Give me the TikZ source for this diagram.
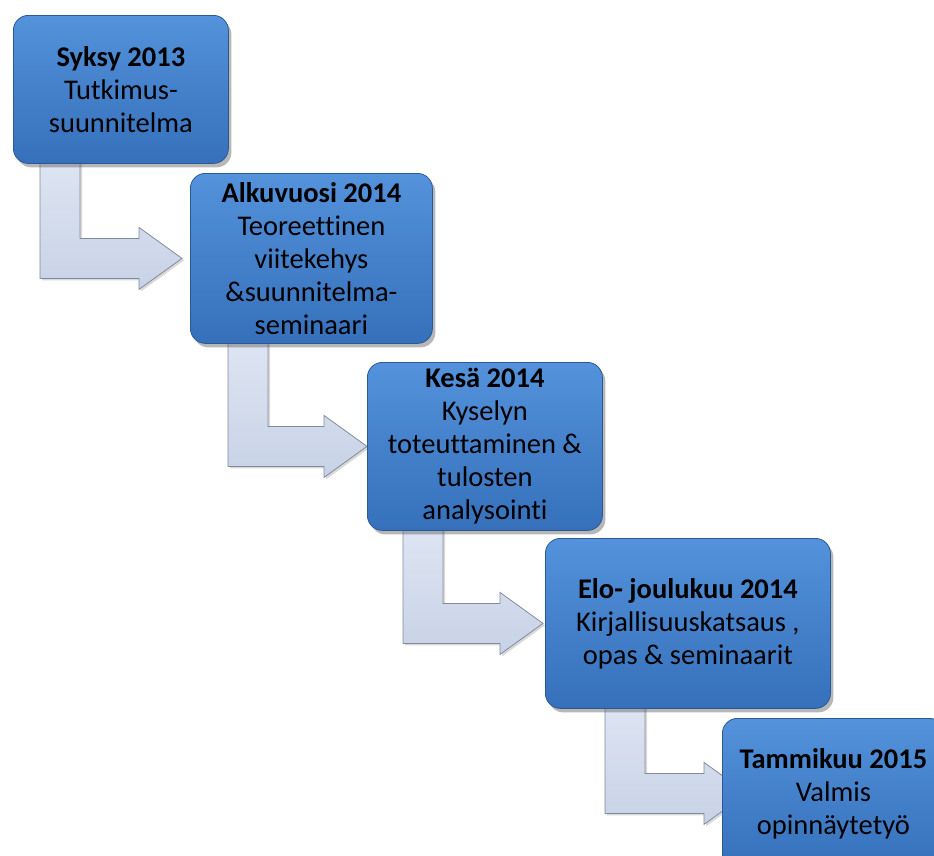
\documentclass[tikz,border=0pt]{standalone}
\usepackage{fontspec}
\setmainfont{Carlito}[Ligatures=NoCommon]
\usetikzlibrary{calc, backgrounds, shadows}
\definecolor{phasetop}{RGB}{84,146,220}
\definecolor{phasebottom}{RGB}{54,112,186}
\definecolor{phaseedge}{RGB}{42,90,150}
\definecolor{arrowlight}{RGB}{222,229,243}
\definecolor{arrowfill}{RGB}{200,210,230}
\definecolor{arrowedge}{RGB}{130,138,156}

\begin{document}
\begin{tikzpicture}[
    x=1pt, y=-1pt,
    every node/.style={font=\fontsize{28.5}{33}\selectfont},
    phasebox/.style={draw=phaseedge, line width=0.8pt, rounded corners=15pt,
        top color=phasetop, bottom color=phasebottom, anchor=north west,
        align=center, inner sep=2pt,
        drop shadow={shadow xshift=3pt, shadow yshift=-4pt, opacity=0.4, fill=black!70}},
    bendarrow/.style={draw=arrowedge, line width=0.8pt, top color=arrowlight,
        bottom color=arrowfill, line join=miter,
        drop shadow={shadow xshift=2pt, shadow yshift=-2pt, opacity=0.25, fill=black!60}}
]
    \useasboundingbox (0,0) rectangle (934,855);
    \clip (0,0) rectangle (934,855);

    % phases
    \node[phasebox, minimum width=215pt, minimum height=148pt] (b1) at (13,15)
        {\textbf{Syksy 2013}\\Tutkimus-\\suunnitelma};
    \node[phasebox, minimum width=242pt, minimum height=170pt] (b2) at (190,173)
        {\textbf{Alkuvuosi 2014}\\Teoreettinen\\viitekehys\\\&suunnitelma-\\seminaari};
    \node[phasebox, minimum width=235pt, minimum height=168pt] (b3) at (367,362)
        {\textbf{Kesä 2014}\\Kyselyn\\toteuttaminen \&\\tulosten\\analysointi};
    \node[phasebox, minimum width=285pt, minimum height=170pt] (b4) at (545,538)
        {\textbf{Elo- joulukuu 2014}\\Kirjallisuuskatsaus ,\\opas \& seminaarit};
    \node[phasebox, minimum width=222pt, minimum height=150pt] (b5) at (722,718)
        {\textbf{Tammikuu 2015}\\Valmis\\opinnäytetyö};

    % bent arrows behind the boxes
    \begin{scope}[on background layer]
    \foreach \a/\b/\off/\gap in {b1/b2/27/-8, b2/b3/38/0, b3/b4/36/-2, b4/b5/60/25}
        \path[bendarrow] let \p1=($(\a.south west)+(\off,0)$), \p2=($(\b.west)+(\gap,0)$) in
            (\x1,{\y1+6pt}) -- ({\x1+40pt},{\y1+6pt}) -- ({\x1+40pt},{\y2+20pt})
            -- ({\x2-43pt},{\y2+20pt}) -- ({\x2-43pt},{\y2+31pt}) -- (\x2,\y2)
            -- ({\x2-43pt},{\y2-31pt}) -- ({\x2-43pt},{\y2-20pt}) -- (\x1,{\y2-20pt}) -- cycle;
    \end{scope}
\end{tikzpicture}
\end{document}
